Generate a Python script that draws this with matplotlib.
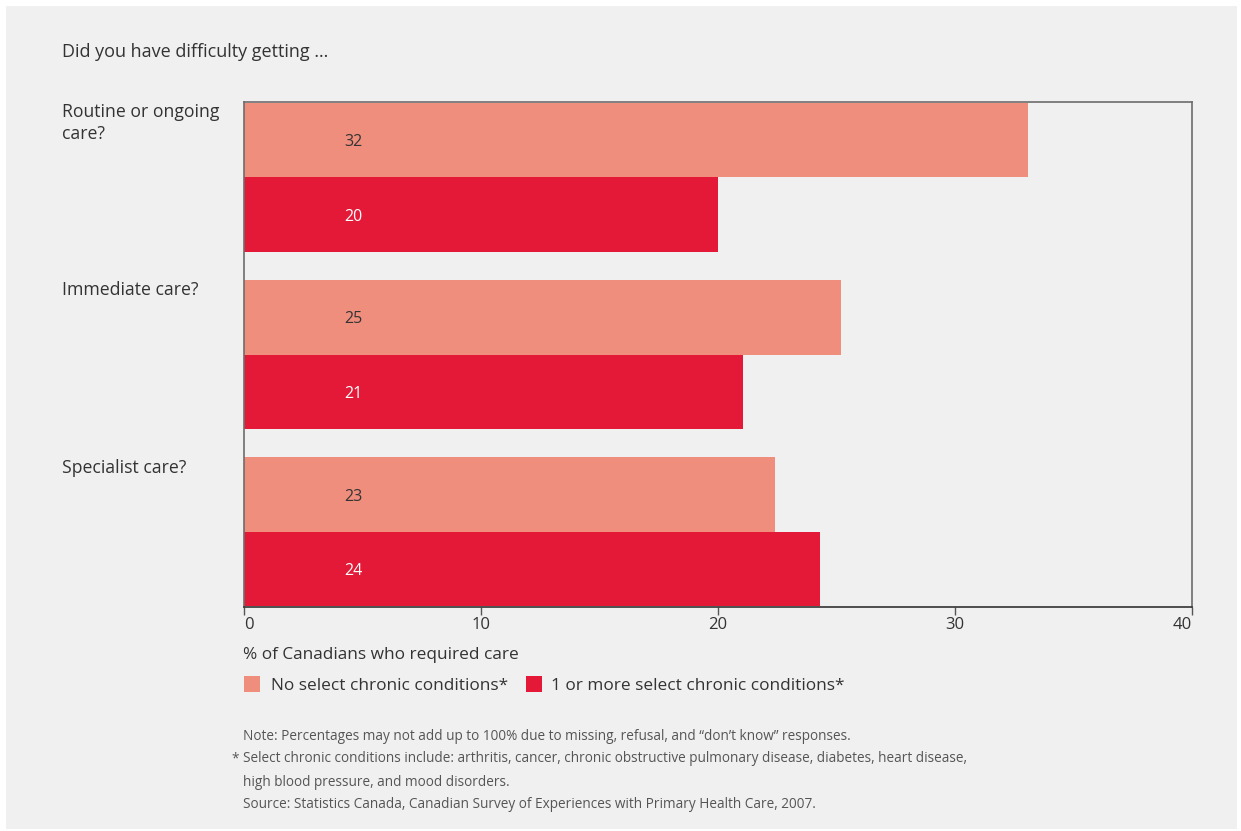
import matplotlib
matplotlib.use("Agg")
import matplotlib.pyplot as plt
from matplotlib.patches import Rectangle
import numpy as np

plt.rcParams['font.family'] = ['Open Sans', 'DejaVu Sans']

categories = ["Routine or ongoing\ncare?", "Immediate care?", "Specialist care?"]
series_names = ["No select chronic conditions*", "1 or more select chronic conditions*"]
no_chronic = [33.1, 25.2, 22.4]
no_chronic_labels = ["32", "25", "23"]
chronic = [20.0, 21.05, 24.3]
chronic_labels = ["20", "21", "24"]
xticks = [0, 10, 20, 30, 40]

PINK = "#f08e7e"
RED = "#e31937"
BG = "#eff0ef"
TXT = "#333333"

W, H = 1241, 831
fig = plt.figure(figsize=(W / 100, H / 100), dpi=100)
fig.patch.set_facecolor("white")
fig.add_artist(Rectangle((6 / W, 1 - 829 / H), (1237 - 6) / W, (829 - 6) / H,
                         transform=fig.transFigure, facecolor=BG, edgecolor="none", zorder=-10))

ax = fig.add_axes([244 / W, 1 - 607 / H, (1192 - 244) / W, (607 - 102) / H])
ax.set_facecolor(BG)

y = np.arange(len(categories))
h = 0.42
ax.barh(y - h / 2, no_chronic, height=h, color=PINK, edgecolor="none", zorder=2)
ax.barh(y + h / 2, chronic, height=h, color=RED, edgecolor="none", zorder=2)

for i in range(len(categories)):
    ax.text(4.6, y[i] - h / 2 + 0.012, no_chronic_labels[i], ha="center", va="center",
            fontsize=11.5, color=TXT, zorder=3)
    ax.text(4.6, y[i] + h / 2 + 0.012, chronic_labels[i], ha="center", va="center",
            fontsize=11.5, color="white", zorder=3)

ax.set_xlim(0, 40)
ax.set_ylim(2 + h + 0.005, -h - 0.005)
ax.set_yticks([])
ax.set_xticks(xticks)
ax.set_xticklabels([str(t) for t in xticks], fontsize=12, color=TXT)
labs = ax.get_xticklabels()
labs[0].set_ha("left")
labs[-1].set_ha("right")
ax.tick_params(axis="x", direction="out", length=6, width=1, color="#555555", pad=1)
for s in ["top", "right", "bottom", "left"]:
    ax.spines[s].set_color("#6d6d6d")
    ax.spines[s].set_linewidth(1.2)
ax.spines["bottom"].set_color("#333333")

# category labels
cat_tops = [102, 280, 458]
for c, t in zip(categories, cat_tops):
    fig.text(62 / W, 1 - (t + 1) / H, c, ha="left", va="top", fontsize=12.7,
             color=TXT, linespacing=1.3)

fig.text(62 / W, 1 - 52 / H, "Did you have difficulty getting …", ha="left", va="center",
         fontsize=13, color=TXT)

fig.text(243 / W, 1 - 655 / H, "% of Canadians who required care", ha="left", va="center",
         fontsize=12.4, color=TXT)

# legend
for x0, col, name, tx in [(244, PINK, series_names[0], 271), (526, RED, series_names[1], 551)]:
    fig.add_artist(Rectangle((x0 / W, 1 - 692 / H), 16 / W, 16 / H,
                             transform=fig.transFigure, facecolor=col, edgecolor="none"))
    fig.text(tx / W, 1 - 686 / H, name, ha="left", va="center", fontsize=12.4, color=TXT)

NOTEF = ['Open Sans', 'DejaVu Sans']
notes = [
    (243, 737, "Note: Percentages may not add up to 100% due to missing, refusal, and \u201cdon\u2019t know\u201d responses."),
    (243, 759, "Select chronic conditions include: arthritis, cancer, chronic obstructive pulmonary disease, diabetes, heart disease,"),
    (243, 782, "high blood pressure, and mood disorders."),
    (243, 804, "Source: Statistics Canada, Canadian Survey of Experiences with Primary Health Care, 2007."),
]
for x0, y0, t in notes:
    fig.text(x0 / W, 1 - y0 / H, t, ha="left", va="center", fontsize=9.8, color="#555555",
             family=NOTEF)
fig.text(239 / W, 1 - 759 / H, "*", ha="right", va="center", fontsize=9.8, color="#555555",
         family=NOTEF)

fig.savefig("out.png", dpi=100, facecolor=fig.get_facecolor())
